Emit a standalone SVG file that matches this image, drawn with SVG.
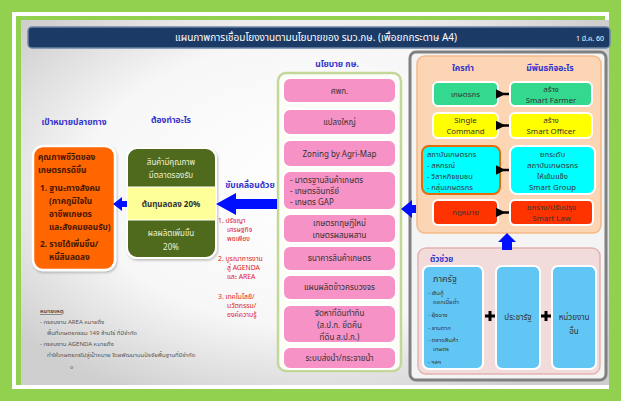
<svg xmlns="http://www.w3.org/2000/svg" width="621" height="401" viewBox="0 0 621 401">
<defs>
<radialGradient id="panelG" cx="50%" cy="45%" r="65%">
<stop offset="0" stop-color="#ffffff"/>
<stop offset="0.6" stop-color="#f7f7f7"/>
<stop offset="1" stop-color="#cfcfcf"/>
</radialGradient>
<filter id="sh" x="-10%" y="-10%" width="130%" height="130%">
<feDropShadow dx="1" dy="1.5" stdDeviation="1.2" flood-color="#000" flood-opacity="0.25"/>
</filter>
<marker id="blk" markerWidth="4" markerHeight="4" refX="1" refY="2" orient="auto" markerUnits="strokeWidth">
<path d="M4,0 L0,2 L4,4 Z" fill="#000"/>
</marker>
</defs>
<style>
text{font-family:"Noto Sans Thai","Noto Sans","DejaVu Sans",sans-serif;}
.hd{font-size:8.5px;font-weight:bold;fill:#3333cc;text-anchor:middle;}
.or{font-size:8.3px;font-weight:bold;fill:#4a1600;}
.gw{font-size:8px;fill:#eef2d8;text-anchor:middle;}
.rd{font-size:6.8px;fill:#e01818;}
.pk{fill:#f692c6;stroke:#fff;stroke-width:2;}
.pt{font-size:8px;fill:#333;text-anchor:middle;}
.ptl{font-size:8px;fill:#333;}
.wb{stroke:#fff;stroke-width:2;}
.rt{font-size:7.8px;fill:#333;text-anchor:middle;}
.rtl{font-size:7.5px;fill:#333;}
.bl{fill:#62c6f4;stroke:#fff;stroke-width:2;}
.bt{font-size:6px;fill:#333;}
.nt{font-size:6px;fill:#555;}
.arr{fill:#0010ff;}
</style>
<rect width="621" height="401" fill="#92d050"/>
<rect x="12" y="12" width="597" height="377" fill="#ffffff"/>
<rect x="16" y="16" width="589" height="369" fill="#92d050"/>
<rect x="21" y="20" width="588" height="365" fill="url(#panelG)"/>

<g id="title">
<rect x="28" y="27" width="582" height="21" rx="4" fill="#1b3a66" stroke="#6f86a6" stroke-width="1.5"/>
<text x="316" y="41" font-size="10px" fill="#ffffff" text-anchor="middle">แผนภาพการเชื่อมโยงงานตามนโยบายของ รมว.กษ. (เพื่อยกกระดาษ A4)</text>
<text x="590" y="41" font-size="7px" fill="#ffffff" text-anchor="middle">1 มี.ค. 60</text>
</g>

<g id="headings">
<text class="hd" x="74" y="125">เป้าหมายปลายทาง</text>
<text class="hd" x="171" y="123">ต้องทำอะไร</text>
<text class="hd" x="250" y="188">ขับเคลื่อนด้วย</text>
<text class="hd" x="337" y="67">นโยบาย กษ.</text>
</g>

<g id="goal">
<rect x="33" y="146" width="82" height="124" rx="10" fill="#ff6600" stroke="#fff" stroke-width="2.5" filter="url(#sh)"/>
<text class="or" x="38" y="160">คุณภาพชีวิตของ</text>
<text class="or" x="38" y="173">เกษตรกรดีขึ้น</text>
<text class="or" x="40" y="191">1. ฐานะทางสังคม</text>
<text class="or" x="49" y="204">(ภาคภูมิใจใน</text>
<text class="or" x="49" y="217">อาชีพเกษตร</text>
<text class="or" x="49" y="230">และสังคมยอมรับ)</text>
<text class="or" x="40" y="247">2. รายได้เพิ่มขึ้น/</text>
<text class="or" x="49" y="260">หนี้สินลดลง</text>
</g>

<g id="todo">
<rect x="127" y="148" width="89" height="110" rx="10" fill="#4f6a1e" stroke="#fff" stroke-width="2" filter="url(#sh)"/>
<rect x="127" y="187" width="89" height="33" fill="#ffff99" stroke="#fff" stroke-width="1"/>
<text class="gw" x="171" y="165">สินค้ามีคุณภาพ</text>
<text class="gw" x="171" y="178">มีตลาดรองรับ</text>
<text x="171" y="207" font-size="8px" font-weight="bold" fill="#333" text-anchor="middle">ต้นทุนลดลง 20%</text>
<text class="gw" x="171" y="236">ผลผลิตเพิ่มขึ้น</text>
<text class="gw" x="171" y="250">20%</text>
</g>

<g id="drivers">
<text class="rd" x="218" y="223">1. ปรัชญา</text>
<text class="rd" x="227" y="232">เศรษฐกิจ</text>
<text class="rd" x="227" y="241">พอเพียง</text>
<text class="rd" x="218" y="261">2. บูรณาการงาน</text>
<text class="rd" x="227" y="270">สู่ AGENDA</text>
<text class="rd" x="227" y="279">และ AREA</text>
<text class="rd" x="218" y="299">3. เทคโนโลยี/</text>
<text class="rd" x="227" y="308">นวัตกรรม/</text>
<text class="rd" x="227" y="317">องค์ความรู้</text>
</g>

<g id="policy">
<rect x="278" y="73" width="123" height="298" rx="8" fill="#fbfdf6" stroke="#c4d79b" stroke-width="2.5"/>
<rect class="pk" x="283" y="78" width="113" height="25" rx="7"/>
<text class="pt" x="339.5" y="94">ศพก.</text>
<rect class="pk" x="283" y="109" width="113" height="26" rx="7"/>
<text class="pt" x="339.5" y="125">แปลงใหญ่</text>
<rect class="pk" x="283" y="140" width="113" height="27" rx="7"/>
<text class="pt" x="339.5" y="157">Zoning by Agri-Map</text>
<rect class="pk" x="283" y="171" width="113" height="39" rx="7"/>
<text class="ptl" x="290" y="183">- มาตรฐานสินค้าเกษตร</text>
<text class="ptl" x="290" y="194">- เกษตรอินทรีย์</text>
<text class="ptl" x="290" y="205">- เกษตร GAP</text>
<rect class="pk" x="283" y="214" width="113" height="29" rx="7"/>
<text class="pt" x="339.5" y="226">เกษตรทฤษฎีใหม่</text>
<text class="pt" x="339.5" y="238">เกษตรผสมผสาน</text>
<rect class="pk" x="283" y="246" width="113" height="25" rx="7"/>
<text class="pt" x="339.5" y="261">ธนาคารสินค้าเกษตร</text>
<rect class="pk" x="283" y="275" width="113" height="25" rx="7"/>
<text class="pt" x="339.5" y="290">แผนผลิตข้าวครบวงจร</text>
<rect class="pk" x="283" y="305" width="113" height="38" rx="7"/>
<text class="pt" x="339.5" y="316">จัดหาที่ดินทำกิน</text>
<text class="pt" x="339.5" y="328">(ส.ป.ก. ยึดคืน</text>
<text class="pt" x="339.5" y="340">ที่ดิน ส.ป.ก.)</text>
<rect class="pk" x="283" y="347" width="113" height="22" rx="7"/>
<text class="pt" x="339.5" y="361">ระบบส่งน้ำ/กระจายน้ำ</text>
</g>

<g id="who">
<rect x="410" y="52" width="196" height="328" rx="6" fill="#f4f4f4" stroke="#808080" stroke-width="3"/>
<rect x="417" y="56" width="184" height="177" rx="8" fill="#fcd5b5" stroke="#f5b987" stroke-width="1.5"/>
<text class="hd" x="463" y="71">ใครทำ</text>
<text class="hd" x="550" y="71">มีพันธกิจอะไร</text>
<g id="r1">
<rect class="wb" x="433" y="82" width="65" height="24" rx="5" fill="#33d98f"/>
<text class="rt" x="465.5" y="97">เกษตรกร</text>
<rect class="wb" x="510" y="82" width="82" height="24" rx="5" fill="#33d98f"/>
<text class="rt" x="551" y="92">สร้าง</text>
<text class="rt" x="551" y="103">Smart Farmer</text>
</g>
<g id="r2">
<rect class="wb" x="433" y="113" width="65" height="25" rx="5" fill="#ffff00"/>
<text class="rt" x="465.5" y="123">Single</text>
<text class="rt" x="465.5" y="134">Command</text>
<rect class="wb" x="510" y="113" width="82" height="25" rx="5" fill="#ffff00"/>
<text class="rt" x="551" y="123">สร้าง</text>
<text class="rt" x="551" y="134">Smart Officer</text>
</g>
<g id="r3">
<rect x="422" y="146" width="78" height="48" rx="7" fill="#00ffff" stroke="#e46c0a" stroke-width="2"/>
<text class="rtl" x="427" y="157">สถาบันเกษตรกร</text>
<text class="rtl" x="427" y="168">- สหกรณ์</text>
<text class="rtl" x="427" y="179">- วิสาหกิจชุมชน</text>
<text class="rtl" x="427" y="190">- กลุ่มเกษตรกร</text>
<rect class="wb" x="510" y="146" width="85" height="48" rx="7" fill="#00ffff"/>
<text class="rt" x="552.5" y="157">ยกระดับ</text>
<text class="rt" x="552.5" y="168">สถาบันเกษตรกร</text>
<text class="rt" x="552.5" y="179">ให้เข้มแข็ง</text>
<text class="rt" x="552.5" y="190">Smart Group</text>
</g>
<g id="r4">
<rect class="wb" x="433" y="200" width="65" height="25" rx="5" fill="#ff3300"/>
<text class="rt" x="465.5" y="215">กฎหมาย</text>
<rect class="wb" x="510" y="200" width="83" height="25" rx="5" fill="#ff3300"/>
<text class="rt" x="551.5" y="210">ยกร่าง/ปรับปรุง</text>
<text class="rt" x="551.5" y="221">Smart Law</text>
</g>
</g>

<g id="helpers">
<rect x="418" y="248" width="182" height="126" rx="8" fill="#f2dcdb" stroke="#e3b3b2" stroke-width="1.5"/>
<text x="430" y="262" font-size="8px" font-weight="bold" fill="#3333cc">ตัวช่วย</text>
<g id="state">
<rect class="bl" x="423" y="266" width="60" height="103" rx="6"/>
<text x="433" y="282" font-size="9px" fill="#333">ภาครัฐ</text>
<text class="bt" x="428" y="295">- เงินกู้</text>
<text class="bt" x="433" y="304">ดอกเบี้ยต่ำ</text>
<text class="bt" x="428" y="317">- ยุ้งฉาง</text>
<text class="bt" x="428" y="330">- ลานตาก</text>
<text class="bt" x="428" y="342">- ตลาดสินค้า</text>
<text class="bt" x="433" y="351">เกษตร</text>
<text class="bt" x="428" y="364">- ฯลฯ</text>
</g>
<g id="pracharat">
<rect class="bl" x="496" y="266" width="44" height="103" rx="6"/>
<text class="pt" x="518" y="320">ประชารัฐ</text>
</g>
<g id="others">
<rect class="bl" x="552" y="266" width="44" height="103" rx="6"/>
<text class="pt" x="574" y="320">หน่วยงาน</text>
<text class="pt" x="574" y="334">อื่น</text>
</g>
</g>

<g id="note">
<text class="nt" x="40" y="313" font-weight="bold" text-decoration="underline">หมายเหตุ</text>
<text class="nt" x="40" y="324">- กรอบงาน AREA หมายถึง</text>
<text class="nt" x="47" y="335">พื้นที่เกษตรกรรม 149 ล้านไร่ ที่มีจำกัด</text>
<text class="nt" x="40" y="346">- กรอบงาน AGENDA หมายถึง</text>
<text class="nt" x="47" y="357">ทำให้เกษตรกรไปสู่เป้าหมาย โดยพัฒนาบนปัจจัยพื้นฐานที่มีจำกัด</text>
<text class="nt" x="70" y="369">๑</text>
</g>

<g id="connectors">
<polygon class="arr" points="113,204 122,197 122,201 127,201 127,207 122,207 122,211"/>
<polygon class="arr" points="216,204 236,193 236,199 277,199 277,209 236,209 236,215"/>
<polygon class="arr" points="401,209 412,200 412,205 416,205 416,213 412,213 412,218"/>
<polygon class="arr" points="507,233 498,242 502,242 502,250 512,250 512,242 516,242"/>
<g stroke="#000" stroke-width="2.5" marker-end="url(#blk)">
<line x1="509" y1="94" x2="503" y2="94"/>
<line x1="509" y1="125.5" x2="503" y2="125.5"/>
<line x1="509" y1="170" x2="503" y2="170"/>
<line x1="509" y1="212.5" x2="503" y2="212.5"/>
</g>
<g stroke="#000" stroke-width="3">
<path d="M485,316 H495 M490,311 V321"/>
<path d="M541,316 H551 M546,311 V321"/>
</g>
</g>
</svg>
